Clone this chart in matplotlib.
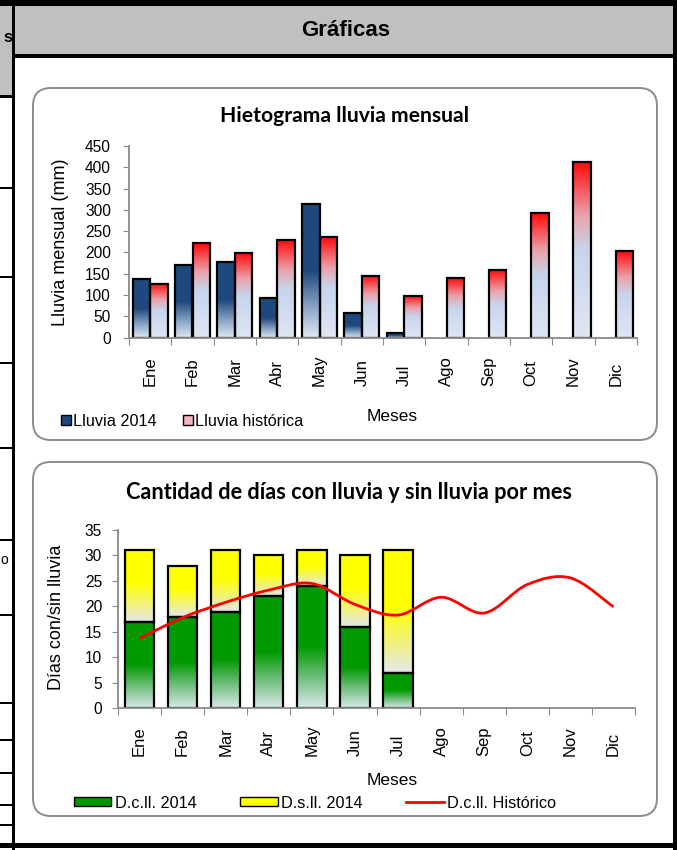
import matplotlib
matplotlib.use("Agg")
import matplotlib.pyplot as plt
import numpy as np
from matplotlib.colors import LinearSegmentedColormap
from matplotlib.patches import Patch, Rectangle, FancyBboxPatch, PathPatch
from matplotlib.lines import Line2D
from matplotlib.path import Path

plt.rcParams['font.family'] = ['Liberation Sans', 'DejaVu Sans']

meses = ["Ene", "Feb", "Mar", "Abr", "May", "Jun", "Jul", "Ago", "Sep", "Oct", "Nov", "Dic"]

# hietograma (mm)
lluvia_2014 = [137, 171, 177, 93, 314, 58, 11]
lluvia_hist = [127, 222, 199, 229, 236, 146, 99, 139, 159, 293, 412, 204]

# dias con / sin lluvia
dcll_2014 = [17, 18, 19, 22, 24, 16, 7]
dsll_2014 = [14, 10, 12, 8, 7, 14, 24]
dcll_hist = [13.7, 17.8, 20.8, 23.2, 24.5, 20.4, 18.3, 21.8, 18.7, 24.3, 25.6, 19.9]

W, H = 677, 850
fig = plt.figure(figsize=(W / 100, H / 100), dpi=100)
tr = fig.dpi_scale_trans


def px(x, y):
    return x / 100, (H - y) / 100


def block(x0, y0, x1, y1, color="black"):
    fig.patches.append(Rectangle(px(x0, y1), (x1 - x0) / 100, (y1 - y0) / 100,
                                 transform=tr, facecolor=color, edgecolor="none", zorder=-2))


# ---- table frame ----
block(0, 6, 12, 96, "#c0c0c0")
block(15, 6, 673, 54, "#c0c0c0")
block(0, 0, W, 6)
block(15, 54, 673, 58)
block(0, 95, 12, 98)
for yy in [188, 277, 363, 448, 540, 615, 703, 740, 773, 805, 825]:
    block(0, yy - 1, 12, yy + 1)
block(12, 0, 15, H)
block(673, 0, W, H)
block(0, 843, W, 848)
fig.text(8 / W, 1 - 38 / H, "s", fontsize=12, fontweight="bold", ha="center", va="center")
fig.text(4 / W, 1 - 560 / H, "o", fontsize=10, ha="center", va="center")
fig.text(346 / W, 1 - 31 / H, "Gráficas", fontsize=16, fontweight="bold", ha="center", va="center")

# rounded chart boxes
for (y0, y1) in [(88, 440), (462, 816)]:
    fig.patches.append(FancyBboxPatch(px(33, y1), 624 / 100, (y1 - y0) / 100,
                                      boxstyle="round,pad=0,rounding_size=0.18", transform=tr,
                                      facecolor="white", edgecolor="#8c8c8c", linewidth=1.4, zorder=-1))


def cmap(colors):
    return LinearSegmentedColormap.from_list("g", colors)


cm_azul = cmap([(0.0, "#e0e7f3"), (0.22, "#8ea8c9"), (0.5, "#1f497d"), (1.0, "#1f497d")])
cm_rojo = cmap([(0.0, "#dfe6f3"), (0.5, "#c6d5ec"), (0.7, "#e9a2ab"), (1.0, "#ff0a0a")])
cm_verde = cmap([(0.0, "#dbe9ea"), (0.25, "#6fbe7c"), (0.5, "#009a00"), (1.0, "#009a00")])
cm_amar = cmap([(0.0, "#e4e8ee"), (0.25, "#f1f27c"), (0.55, "#ffff00"), (1.0, "#ffff00")])


def fill_grad(ax, bars, cm):
    grad = np.linspace(1, 0, 256).reshape(-1, 1)
    for b in bars:
        x0, y0, w, h = b.get_x(), b.get_y(), b.get_width(), b.get_height()
        im = ax.imshow(grad, cmap=cm, vmin=0, vmax=1, aspect="auto", origin="upper",
                       extent=(x0, x0 + w, y0, y0 + h), zorder=1)
        im.set_clip_path(b)


def style_axes(ax, ymax, ystep, pad, ypad):
    for s in ["top", "right"]:
        ax.spines[s].set_visible(False)
    for s in ["left", "bottom"]:
        ax.spines[s].set_color("#8a8a8a")
        ax.spines[s].set_linewidth(1.3)
    ax.set_xlim(-0.5, 11.5)
    ax.set_ylim(0, ymax)
    ax.set_yticks(np.arange(0, ymax + 1, ystep))
    ax.tick_params(axis="y", direction="out", length=4, color="#8a8a8a", labelsize=11.2, pad=ypad)
    ax.set_xticks(np.arange(-0.5, 12, 1))
    ax.set_xticklabels([])
    ax.tick_params(axis="x", which="major", direction="out", length=5, color="#8a8a8a")
    ax.set_xticks(np.arange(12), meses, minor=True)
    ax.tick_params(axis="x", which="minor", length=0, labelsize=12, pad=pad)
    for lb in ax.get_xticklabels(minor=True):
        lb.set_rotation(90)
        lb.set_rotation_mode("anchor")
        lb.set_ha("left")
        lb.set_va("center")


# ---- chart 1 ----
ax1 = fig.add_axes([129 / W, 1 - 337.7 / H, 508 / W, 191.7 / H])
ax1.patch.set_alpha(0)
x1 = np.arange(12)
b_hist = ax1.bar(x1 + 0.205, lluvia_hist, 0.41, facecolor="none", edgecolor="black", linewidth=1.6, zorder=2)
b_2014 = ax1.bar(x1[:len(lluvia_2014)] - 0.205, lluvia_2014, 0.41, facecolor="none",
                 edgecolor="black", linewidth=1.6, zorder=2)
fill_grad(ax1, b_2014, cm_azul)
fill_grad(ax1, b_hist, cm_rojo)
style_axes(ax1, 450, 50, 35, 9)
ax1.set_ylabel("Lluvia mensual (mm)", fontsize=13)
ax1.yaxis.set_label_coords(-0.118, 0.5)
ax1.set_xlabel("Meses", fontsize=12.5)
ax1.xaxis.set_label_coords(0.518, -0.41)
ax1.xaxis.label.set_va("center")
fig.text(345 / W, 1 - 116 / H, "Hietograma lluvia mensual", fontsize=15.2, fontweight="bold",
         family="Lato", ha="center", va="center")
fig.legend([Patch(facecolor="#1f497d", edgecolor="black"), Patch(facecolor="#f2b6bf", edgecolor="black")],
           ["Lluvia 2014", "Lluvia histórica"], loc="center left", bbox_to_anchor=(61 / W, 1 - 421 / H),
           ncol=2, frameon=False, fontsize=11.7, handlelength=0.62, handleheight=0.62, handletextpad=0.12,
           columnspacing=1.6, borderpad=0, borderaxespad=0)

# ---- chart 2 ----
ax2 = fig.add_axes([118 / W, 1 - 708.3 / H, 517 / W, 178.3 / H])
ax2.patch.set_alpha(0)
x2 = np.arange(len(dcll_2014))
b_c = ax2.bar(x2, dcll_2014, 0.68, facecolor="none", edgecolor="black", linewidth=1.6, zorder=2)
b_s = ax2.bar(x2, dsll_2014, 0.68, bottom=dcll_2014, facecolor="none", edgecolor="black",
              linewidth=1.6, zorder=2)
fill_grad(ax2, b_c, cm_verde)
fill_grad(ax2, b_s, cm_amar)

# smoothed historic line (catmull-rom as bezier)
pts = np.column_stack([np.arange(12), dcll_hist])
verts = [pts[0]]
codes = [Path.MOVETO]
for i in range(len(pts) - 1):
    p0 = pts[max(i - 1, 0)]
    p1 = pts[i]
    p2 = pts[i + 1]
    p3 = pts[min(i + 2, len(pts) - 1)]
    verts += [p1 + (p2 - p0) / 6, p2 - (p3 - p1) / 6, p2]
    codes += [Path.CURVE4] * 3
ax2.add_patch(PathPatch(Path(verts, codes), facecolor="none", edgecolor="#ff0000", linewidth=2, zorder=3))

style_axes(ax2, 35, 5, 34, 7.5)
ax2.set_ylabel("Días con/sin lluvia", fontsize=13)
ax2.yaxis.set_label_coords(-0.103, 0.51)
ax2.set_xlabel("Meses", fontsize=12.5)
ax2.xaxis.set_label_coords(0.53, -0.405)
ax2.xaxis.label.set_va("center")
fig.text(349 / W, 1 - 493 / H, "Cantidad de días con lluvia y sin lluvia por mes", fontsize=15.7,
         fontweight="bold", family="Lato", ha="center", va="center")
fig.legend([Patch(facecolor="#009a00", edgecolor="black"), Patch(facecolor="#ffff00", edgecolor="black"),
            Line2D([], [], color="#ff0000", linewidth=2)],
           ["D.c.ll. 2014", "D.s.ll. 2014", "D.c.ll. Histórico"], loc="center left",
           bbox_to_anchor=(74 / W, 1 - 803 / H), ncol=3, frameon=False, fontsize=11.7,
           handlelength=2.3, handleheight=0.45, handletextpad=0.2, columnspacing=2.7,
           borderpad=0, borderaxespad=0)

fig.savefig("out.png", dpi=100)
